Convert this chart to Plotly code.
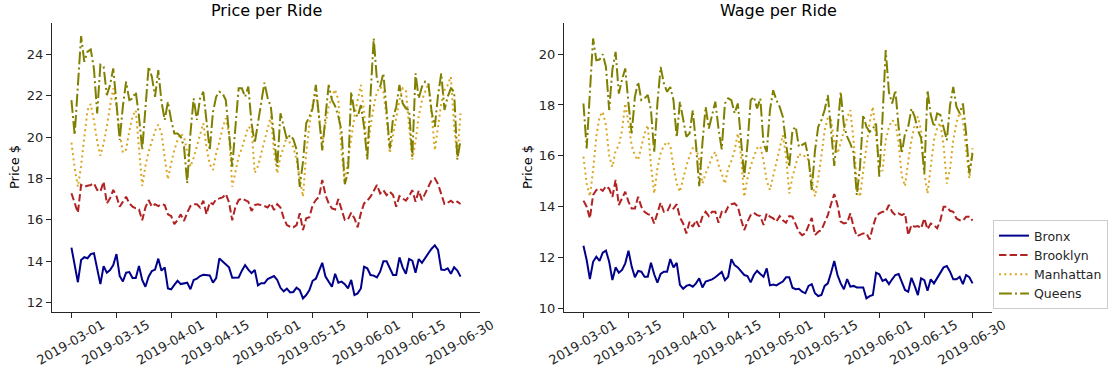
import pandas as pd
import plotly.graph_objects as go

dates = pd.date_range("2019-03-01", "2019-06-30", freq="D")
boroughs = ["Bronx", "Brooklyn", "Manhattan", "Queens"]
tick_dates = ["2019-03-01", "2019-03-15", "2019-04-01", "2019-04-15", "2019-05-01",
              "2019-05-15", "2019-06-01", "2019-06-15", "2019-06-30"]

price_bronx = [14.66, 13.8, 12.99, 14.06, 14.2, 14.15, 14.35, 14.39, 13.6, 12.9,
               13.77, 13.45, 13.58, 13.82, 14.35, 13.29, 13.03, 13.45, 13.48, 13.19,
               13.19, 13.77, 13.1, 12.77, 13.26, 13.53, 13.6, 14.13, 13.55, 13.71,
               12.69, 12.65, 12.86, 13.06, 12.9, 12.94, 12.97, 12.65, 13.1, 13.16,
               13.29, 13.35, 13.35, 13.32, 12.97, 13.19, 14.14, 14.0, 13.88, 13.71,
               13.21, 13.21, 13.22, 13.55, 13.82, 13.6, 13.43, 13.58, 12.84, 12.94,
               12.94, 13.14, 13.22, 13.29, 13.1, 12.72, 12.55, 12.68, 12.5, 12.52,
               12.73, 12.61, 12.21, 12.37, 12.61, 13.06, 13.16, 13.55, 13.93, 13.26,
               13.02, 12.77, 13.4, 12.97, 13.02, 12.9, 12.69, 13.1, 12.37, 12.45,
               12.69, 13.74, 13.66, 13.34, 13.31, 13.22, 13.5, 14.0, 14.0, 13.66,
               13.34, 13.34, 14.19, 13.71, 13.4, 14.11, 14.03, 13.45, 14.11, 13.93,
               14.19, 14.39, 14.61, 14.77, 14.55, 13.6, 13.58, 13.66, 13.4, 13.71,
               13.55, 13.26]
price_brooklyn = [17.29, 16.8, 16.35, 17.69, 17.6, 17.65, 17.69, 17.77, 17.45, 17.37,
                  17.85, 16.8, 17.04, 17.45, 17.15, 16.64, 16.88, 17.12, 16.8, 16.64,
                  16.56, 16.51, 15.98, 16.6, 16.96, 16.64, 16.76, 16.67, 16.76, 16.72,
                  16.27, 16.19, 15.8, 16.0, 16.27, 15.95, 16.35, 16.67, 16.76, 16.76,
                  16.6, 16.93, 16.27, 16.85, 16.76, 17.0, 17.04, 17.09, 17.25, 16.85,
                  15.98, 16.64, 16.96, 17.04, 16.96, 16.88, 16.43, 16.72, 16.76, 16.72,
                  16.67, 16.6, 16.8, 16.48, 16.76, 16.6, 16.1, 15.75, 15.67, 15.64,
                  15.75, 16.32, 15.51, 16.08, 16.13, 16.72, 16.96, 17.12, 17.93, 17.2,
                  16.8, 16.56, 16.51, 17.01, 16.48, 16.0, 16.03, 16.35, 16.08, 15.64,
                  16.32, 16.8, 16.93, 17.12, 17.4, 17.69, 17.28, 17.44, 17.2, 17.36,
                  17.2, 16.64, 17.15, 17.04, 16.93, 17.15, 17.44, 16.88, 17.41, 16.96,
                  17.25, 17.6, 17.93, 18.01, 17.73, 17.2, 16.77, 16.83, 16.93, 16.8,
                  16.88, 16.77]
price_manhattan = [19.73, 18.5, 17.6, 18.6, 20.0, 21.3, 21.6, 20.8, 19.8, 19.1,
                   19.7, 20.5, 21.5, 22.35, 21.5, 20.2, 19.25, 19.4, 20.3, 21.0,
                   21.3, 19.5, 17.64, 18.6, 19.3, 19.8, 20.3, 20.6, 20.2, 19.0,
                   17.96, 18.73, 19.38, 19.86, 20.18, 20.0, 19.3, 18.57, 19.0, 19.6,
                   20.18, 20.67, 19.5, 18.7, 18.41, 19.22, 19.78, 20.43, 20.91, 20.2,
                   17.6, 18.41, 19.05, 19.46, 20.02, 20.5, 20.4, 18.28, 18.6, 19.22,
                   19.86, 20.5, 21.0, 19.3, 18.25, 19.05, 19.6, 20.02, 19.7, 19.53,
                   18.89, 18.09, 17.12, 19.22, 20.6, 21.55, 22.15, 21.0, 19.71, 20.67,
                   21.47, 21.95, 22.3, 21.79, 19.28, 17.81, 18.89, 19.8, 20.99, 21.79,
                   22.52, 21.2, 19.22, 20.5, 21.47, 22.19, 22.44, 22.19, 20.99, 19.22,
                   20.02, 20.83, 21.79, 22.36, 22.28, 20.5, 18.92, 19.8, 20.99, 21.79,
                   22.19, 22.6, 21.15, 19.36, 20.5, 21.63, 22.27, 22.52, 22.92, 20.5,
                   19.05, 21.15]
price_queens = [21.79, 20.1, 22.5, 24.88, 23.64, 24.13, 24.24, 23.3, 21.15, 23.5,
                23.4, 22.03, 22.52, 23.32, 21.63, 19.86, 21.5, 22.68, 21.79, 21.87,
                22.19, 21.0, 19.38, 21.47, 23.4, 22.92, 21.95, 23.24, 21.71, 20.83,
                21.71, 20.83, 20.18, 20.18, 20.02, 19.53, 17.77, 20.18, 21.87, 20.83,
                21.87, 22.19, 20.91, 19.36, 21.2, 21.95, 22.19, 22.11, 21.79, 20.18,
                18.57, 20.5, 22.36, 22.36, 21.95, 22.44, 20.67, 19.71, 20.67, 21.79,
                22.63, 21.9, 21.47, 20.02, 18.57, 21.15, 20.5, 19.9, 20.1, 19.9,
                19.4, 17.6, 18.8, 20.67, 20.99, 21.39, 22.52, 21.0, 19.36, 21.0,
                22.52, 21.8, 21.5, 20.99, 20.3, 17.73, 18.3, 22.19, 21.2, 20.99,
                21.55, 20.5, 18.92, 22.0, 24.77, 22.76, 22.44, 23.08, 21.39, 19.45,
                20.9, 21.47, 22.52, 21.63, 21.39, 21.31, 19.05, 23.08, 21.87, 22.44,
                22.68, 22.6, 21.23, 20.5, 22.03, 23.08, 21.31, 21.95, 22.36, 22.19,
                18.92, 19.86]

wage_bronx = [12.45, 11.89, 11.14, 11.82, 12.02, 11.86, 12.18, 12.26, 11.82, 11.1,
              11.6, 11.39, 11.5, 11.76, 12.26, 11.63, 11.21, 11.46, 11.43, 11.23,
              11.23, 11.78, 11.33, 11.0, 11.34, 11.43, 11.43, 11.93, 11.6, 11.78,
              10.91, 10.76, 10.87, 10.91, 10.84, 10.97, 11.17, 10.81, 11.04, 11.07,
              11.13, 11.21, 11.3, 11.42, 11.1, 11.23, 11.92, 11.69, 11.6, 11.47,
              11.3, 11.26, 11.01, 11.3, 11.47, 11.34, 11.23, 11.56, 10.89, 10.92,
              10.89, 10.97, 11.04, 11.21, 11.21, 10.8, 10.74, 10.76, 10.64, 10.58,
              10.87, 10.94, 10.58, 10.47, 10.51, 10.87, 10.97, 11.39, 11.85, 11.3,
              10.97, 10.74, 11.14, 10.84, 10.87, 10.81, 10.81, 10.81, 10.38, 10.47,
              10.51, 11.39, 11.33, 11.07, 11.13, 10.94, 11.13, 11.3, 11.34, 11.04,
              10.71, 10.64, 11.19, 10.87, 10.51, 11.17, 11.1, 10.68, 11.13, 10.97,
              11.17, 11.39, 11.6, 11.65, 11.43, 11.13, 11.13, 11.23, 10.94, 11.3,
              11.21, 10.97]
wage_brooklyn = [14.23, 13.99, 13.53, 14.45, 14.65, 14.71, 14.62, 14.8, 14.7, 14.38,
                 15.05, 14.06, 14.32, 14.58, 14.19, 13.92, 13.92, 14.38, 13.99, 13.79,
                 13.7, 13.66, 13.33, 13.73, 14.15, 13.79, 13.79, 14.06, 13.92, 14.09,
                 13.57, 13.33, 12.94, 13.4, 13.2, 13.46, 13.2, 13.6, 13.79, 13.62,
                 13.79, 13.79, 13.36, 13.79, 13.73, 13.99, 14.09, 14.12, 14.0, 13.5,
                 13.07, 13.4, 13.66, 13.75, 13.66, 13.62, 13.27, 13.73, 13.6, 13.53,
                 13.4, 13.62, 13.46, 13.36, 13.62, 13.6, 13.3, 13.0, 12.87, 12.94,
                 13.25, 13.55, 12.87, 13.0, 13.07, 13.36, 13.66, 14.1, 14.49, 14.06,
                 13.4, 13.33, 13.36, 13.73, 13.2, 12.83, 12.87, 12.94, 12.94, 12.7,
                 13.2, 13.6, 13.73, 13.79, 13.79, 14.06, 13.79, 13.66, 13.73, 13.66,
                 13.73, 12.87, 13.27, 13.2, 13.23, 13.14, 13.53, 13.1, 13.33, 13.27,
                 13.14, 13.46, 13.99, 13.99, 13.83, 13.79, 13.53, 13.46, 13.44, 13.6,
                 13.6, 13.44]
wage_manhattan = [15.96, 14.9, 14.4, 15.43, 16.75, 17.54, 17.73, 17.2, 16.0, 15.56,
                  16.2, 16.4, 17.0, 18.06, 17.27, 16.4, 16.0, 15.83, 16.35, 16.88,
                  17.2, 15.6, 14.51, 15.5, 16.1, 16.4, 16.55, 16.4, 15.56, 14.9,
                  14.58, 15.1, 15.6, 16.0, 16.3, 16.35, 15.83, 14.9, 15.3, 15.6,
                  15.96, 16.16, 15.64, 15.3, 14.9, 15.5, 15.8, 16.2, 16.88, 16.0,
                  14.38, 15.1, 15.6, 15.96, 16.3, 16.38, 15.8, 15.0, 14.65, 15.2,
                  15.7, 16.3, 16.81, 16.0, 14.51, 15.17, 15.6, 16.09, 15.96, 16.0,
                  15.83, 15.0, 14.4, 15.1, 16.0, 17.0, 17.5, 17.4, 16.5, 16.09,
                  16.5, 17.0, 17.5, 17.8, 16.6, 15.0, 14.38, 15.4, 16.4, 17.3,
                  17.93, 16.8, 15.6, 15.4, 16.6, 17.14, 17.4, 17.3, 16.5, 15.2,
                  14.8, 15.8, 16.6, 17.2, 17.54, 17.0, 15.3, 14.51, 15.6, 16.6,
                  17.1, 17.3, 16.4, 14.9, 15.5, 16.6, 17.3, 17.7, 17.4, 16.2,
                  15.1, 16.3]
wage_queens = [18.06, 16.29, 18.5, 20.62, 19.76, 19.79, 20.0, 19.5, 17.8, 19.4,
               20.09, 18.45, 19.0, 19.44, 18.06, 16.88, 18.32, 18.91, 18.19, 18.26,
               18.39, 17.8, 16.12, 18.06, 19.5, 18.85, 18.52, 18.71, 18.19, 16.72,
               18.13, 17.4, 16.75, 16.88, 17.8, 16.43, 14.8, 16.5, 17.93, 17.07,
               17.67, 18.13, 17.07, 16.25, 18.06, 18.26, 18.19, 17.67, 18.06, 16.75,
               15.17, 16.43, 18.19, 18.32, 17.86, 18.26, 16.48, 16.15, 17.8, 18.58,
               18.19, 17.93, 17.54, 16.48, 15.56, 17.01, 17.14, 16.35, 16.42, 16.5,
               15.9, 14.65, 16.2, 17.14, 17.4, 17.8, 18.39, 16.88, 15.6, 17.0,
               18.52, 17.2, 16.75, 16.48, 16.12, 14.45, 15.56, 17.61, 17.14, 16.94,
               17.07, 17.27, 15.17, 17.5, 20.16, 18.5, 18.06, 18.58, 17.14, 16.09,
               16.88, 17.14, 17.86, 17.54, 17.01, 16.7, 15.3, 18.58, 17.61, 17.14,
               17.67, 17.61, 17.07, 16.61, 17.99, 18.71, 17.93, 17.67, 18.06, 16.88,
               15.3, 16.09]

price = {"Bronx": price_bronx, "Brooklyn": price_brooklyn,
         "Manhattan": price_manhattan, "Queens": price_queens}
wage = {"Bronx": wage_bronx, "Brooklyn": wage_brooklyn,
        "Manhattan": wage_manhattan, "Queens": wage_queens}

colors = {"Bronx": "#00008B", "Brooklyn": "#B22222",
          "Manhattan": "#DAA520", "Queens": "#808000"}
dashes = {"Bronx": "solid", "Brooklyn": "7.4px,3.2px",
          "Manhattan": "2px,3.3px", "Queens": "12.8px,3.2px,2px,3.2px"}

FONT = "DejaVu Sans"
AX = "#262626"
W, H = 1111, 375

fig = go.Figure()
for b in boroughs:
    fig.add_trace(go.Scatter(x=dates, y=price[b], mode="lines", name=b,
                             legendgroup=b, xaxis="x", yaxis="y",
                             line=dict(color=colors[b], width=2, dash=dashes[b])))
for b in boroughs:
    fig.add_trace(go.Scatter(x=dates, y=wage[b], mode="lines", name=b,
                             legendgroup=b, showlegend=False, xaxis="x2", yaxis="y2",
                             line=dict(color=colors[b], width=2, dash=dashes[b])))

pad = pd.Timedelta(days=6.05)
xr = [(dates[0] - pad).isoformat(), (dates[-1] + pad).isoformat()]

def xax(domain, anchor):
    return dict(domain=domain, anchor=anchor, type="date", range=xr,
                tickvals=tick_dates, ticktext=tick_dates, tickangle=-30,
                ticklabelshift=31, ticklabelstandoff=-5,
                ticks="outside", ticklen=5, tickwidth=1.2, tickcolor=AX,
                showline=True, linecolor=AX, linewidth=1.3, showgrid=False,
                zeroline=False, automargin=False,
                tickfont=dict(family=FONT, size=13, color=AX))

def yax(domain, anchor, rng, vals):
    return dict(domain=domain, anchor=anchor, range=rng, tickvals=vals,
                ticks="outside", ticklen=5, tickwidth=1.2, tickcolor=AX,
                showline=True, linecolor=AX, linewidth=1.3, showgrid=False,
                zeroline=False, automargin=False,
                tickfont=dict(family=FONT, size=13, color=AX))

ydom = [(H - 311.5) / H, (H - 23) / H]
dom1 = [52 / W, 480 / W]
dom2 = [564 / W, 992 / W]

fig.update_layout(
    width=W, height=H, margin=dict(l=0, r=0, t=0, b=0),
    paper_bgcolor="white", plot_bgcolor="white",
    font=dict(family=FONT, size=13, color=AX),
    xaxis=xax(dom1, "y"), yaxis=yax(ydom, "x", [11.576, 25.514], [12, 14, 16, 18, 20, 22, 24]),
    xaxis2=xax(dom2, "y2"), yaxis2=yax(ydom, "x2", [9.862, 21.23], [10, 12, 14, 16, 18, 20]),
    legend=dict(x=993 / W, y=(H - 220) / H, xanchor="left", yanchor="top",
                bgcolor="rgba(255,255,255,0.8)", bordercolor="#cccccc", borderwidth=1,
                font=dict(family=FONT, size=12.5, color=AX), tracegroupgap=0,
                itemwidth=30),
    showlegend=True,
    annotations=[
        dict(text="Price per Ride", x=(dom1[0] + dom1[1]) / 2, y=(H - 11) / H,
             xref="paper", yref="paper", showarrow=False, xanchor="center",
             yanchor="middle", font=dict(family=FONT, size=16, color="black")),
        dict(text="Wage per Ride", x=(dom2[0] + dom2[1]) / 2, y=(H - 11) / H,
             xref="paper", yref="paper", showarrow=False, xanchor="center",
             yanchor="middle", font=dict(family=FONT, size=16, color="black")),
        dict(text="Price $", x=14 / W, y=(H - 167) / H, xref="paper", yref="paper",
             showarrow=False, textangle=-90, xanchor="center", yanchor="middle",
             font=dict(family=FONT, size=13, color="black")),
        dict(text="Price $", x=527 / W, y=(H - 167) / H, xref="paper", yref="paper",
             showarrow=False, textangle=-90, xanchor="center", yanchor="middle",
             font=dict(family=FONT, size=13, color="black")),
    ],
)

fig.write_html("out.html")
